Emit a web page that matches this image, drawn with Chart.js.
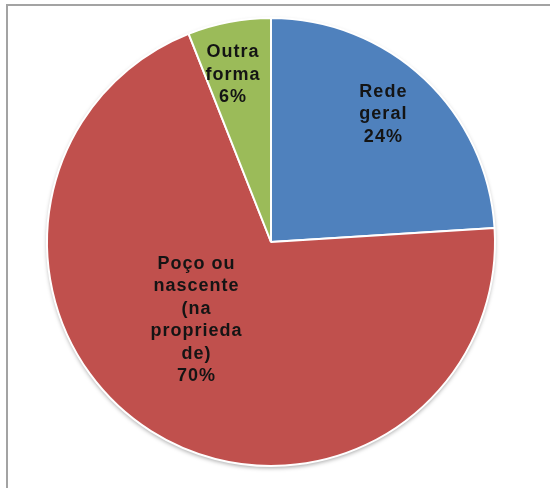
<!DOCTYPE html>
<html>
<head>
<meta charset="utf-8">
<script src="https://cdn.jsdelivr.net/npm/chart.js@4/dist/chart.umd.min.js"></script>
<style>
  html, body { margin: 0; padding: 0; background: #fff; }
  #wrap { position: relative; width: 550px; height: 488px; }
  #frame {
    position: absolute; left: 6px; top: 4px; right: -10px; bottom: -10px;
    border-left: 2px solid #a3a3a3; border-top: 2px solid #a3a3a3;
  }
  canvas { position: absolute; left: 0; top: 0; }
</style>
</head>
<body>
<div id="wrap">
  <div id="frame"></div>
  <canvas id="chart" width="550" height="488"></canvas>
</div>
<script>
// Abastecimento de água - forma de acesso
const categories = [
  ['Rede', 'geral'],
  ['Poço ou', 'nascente', '(na', 'proprieda', 'de)'],
  ['Outra', 'forma']
];
const shares = [24, 70, 6];
const sliceColors = ['#4f81bd', '#c0504d', '#9bbb59'];

// where each label sits: fraction of the radius and shift of the angle (rad)
const labelRadius = [0.76, 0.482, 0.765];
const labelAngleShift = [-0.033, 0.197, -0.035];

// soft drop shadow under the whole pie
const pieShadow = {
  id: 'pieShadow',
  beforeDatasetsDraw(chart) {
    const arc = chart.getDatasetMeta(0).data[0];
    if (!arc) return;
    const { ctx } = chart;
    ctx.save();
    ctx.shadowColor = 'rgba(0,0,0,0.35)';
    ctx.shadowBlur = 4;
    ctx.shadowOffsetY = 2;
    ctx.beginPath();
    ctx.arc(arc.x, arc.y, arc.outerRadius, 0, Math.PI * 2);
    ctx.fillStyle = '#fff';
    ctx.fill();
    ctx.restore();
  }
};

// category name + percentage written inside each slice
const sliceLabels = {
  id: 'sliceLabels',
  afterDatasetsDraw(chart) {
    const { ctx } = chart;
    const meta = chart.getDatasetMeta(0);
    const lineHeight = 22.5;
    ctx.save();
    ctx.font = 'bold 18px "Liberation Sans", Arial, sans-serif';
    ctx.letterSpacing = '1px';
    ctx.fillStyle = '#141414';
    ctx.textAlign = 'center';
    ctx.textBaseline = 'middle';
    meta.data.forEach((arc, i) => {
      const mid = (arc.startAngle + arc.endAngle) / 2 + labelAngleShift[i];
      const r = arc.outerRadius * labelRadius[i];
      const cx = arc.x + Math.cos(mid) * r;
      const cy = arc.y + Math.sin(mid) * r;
      const lines = categories[i].concat([shares[i] + '%']);
      const top = cy - (lines.length - 1) * lineHeight / 2;
      lines.forEach((t, j) => ctx.fillText(t, cx, top + j * lineHeight));
    });
    ctx.restore();
  }
};

new Chart(document.getElementById('chart'), {
  type: 'pie',
  data: {
    labels: categories.map(c => c.join(' ')),
    datasets: [{
      data: shares,
      backgroundColor: sliceColors,
      borderColor: '#ffffff',
      borderWidth: 2
    }]
  },
  options: {
    responsive: false,
    animation: false,
    layout: { padding: { left: 46, right: 54, top: 17, bottom: 21 } },
    plugins: {
      legend: { display: false },
      tooltip: { enabled: false }
    }
  },
  plugins: [pieShadow, sliceLabels]
});
</script>
</body>
</html>
